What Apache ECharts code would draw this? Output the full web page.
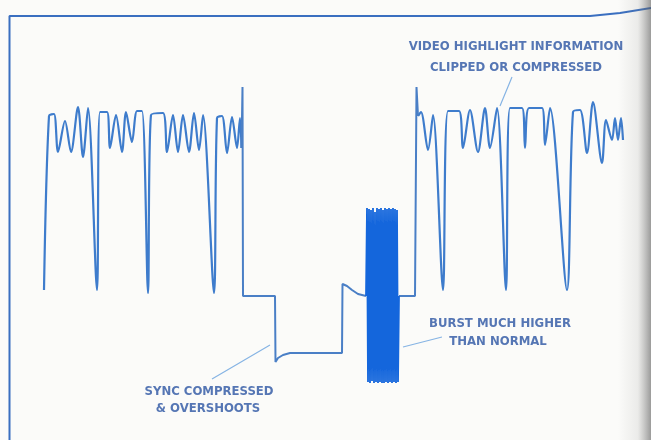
<!DOCTYPE html>
<html>
<head>
<meta charset="utf-8">
<script src="https://cdn.jsdelivr.net/npm/echarts@6/dist/echarts.min.js"></script>
<style>
  html, body { margin: 0; padding: 0; background: #fbfbf9; }
  #chart { width: 651px; height: 440px; }
</style>
</head>
<body>
<div id="chart"></div>
<script>
// time axis is arbitrary units across the line, level: 0 = blanking
var videoLeftT = [44, 49, 54, 58, 65, 71, 78, 83, 88, 97, 100, 107, 110, 116, 122, 126, 132, 137, 142, 148, 151, 163, 167, 173, 178, 183, 189, 194, 199, 203, 214, 217, 222, 227, 232, 237, 240, 241.5];
var videoLeftV = [6, 180, 182, 144, 175, 144, 189, 139, 188, 6, 184, 184, 148, 181, 144, 184, 154, 185, 185, 3, 181, 183, 144, 181, 144, 181, 144, 183, 146, 181, 3, 178, 180, 143, 179, 148, 178, 148];

var blankT = [241.5, 242.5, 243, 275, 275.5, 278, 283, 290, 342, 342.5, 347, 352, 358, 366];
var blankV = [148, 209, 0, 0, -66, -62, -59, -57, -57, 12, 10, 6, 2, 0];

var burstT = [366, 367, 368, 369, 370, 371, 372, 373, 374, 375, 376, 377, 378, 379, 380, 381, 382, 383, 384, 385, 386, 387, 388, 389, 390, 391, 392, 393, 394, 395, 396, 397, 398, 399];
var burstV = [0, 88, -86, 87, -87, 86, -85, 88, -87, 84, -86, 88, -87, 87, -86, 88, -87, 86, -87, 88, -86, 87, -87, 88, -86, 87, -87, 88, -86, 87, -87, 86, -86, 0];

var backT = [399, 415, 416.5, 418];
var backV = [0, 0, 209, 180];

var videoRightT = [418, 421, 428, 433, 443, 448, 459, 463, 470, 478, 485, 490, 497, 506, 510, 522, 525, 529, 542, 545, 550, 567, 573, 580, 587, 593, 602, 606, 612, 615, 618, 621, 623];
var videoRightV = [180, 184, 146, 181, 6, 185, 185, 148, 186, 144, 188, 148, 188, 6, 188, 188, 148, 188, 188, 151, 188, 6, 184, 186, 143, 194, 133, 176, 156, 178, 156, 178, 156];

var frameT = [9.5, 9.5, 590, 620, 651];
var frameV = [-144, 280, 280, 283, 288];

var pointers = [
    [[512, 219], [500, 190]],
    [[212, -83], [270, -49]],
    [[403, -51], [442, -41]]
];

var notes = [
    { text: 'VIDEO HIGHLIGHT INFORMATION', x: 516, y: 47 },
    { text: 'CLIPPED OR COMPRESSED', x: 516, y: 68 },
    { text: 'BURST MUCH HIGHER', x: 500, y: 324 },
    { text: 'THAN NORMAL', x: 498, y: 342 },
    { text: 'SYNC COMPRESSED', x: 209, y: 392 },
    { text: '& OVERSHOOTS', x: 208, y: 409 }
];

function pairs(t, v) {
    var out = [];
    for (var i = 0; i < t.length; i++) {
        out.push([t[i], v[i]]);
    }
    return out;
}

var videoData = pairs(videoLeftT, videoLeftV).concat([[null, null]], pairs(videoRightT, videoRightV));
var pointerData = [];
pointers.forEach(function (p) {
    pointerData.push(p[0], p[1], [null, null]);
});

var chart = echarts.init(document.getElementById('chart'));

var graphics = notes.map(function (n) {
    return {
        type: 'text',
        x: n.x,
        y: n.y,
        style: {
            text: n.text,
            fill: '#5576b4',
            font: 'bold 13px "DejaVu Sans Condensed", "Liberation Sans Narrow", sans-serif',
            textAlign: 'center',
            textVerticalAlign: 'middle'
        }
    };
});
graphics.push({
    type: 'rect',
    shape: { x: 618, y: 0, width: 33, height: 440 },
    style: {
        fill: new echarts.graphic.LinearGradient(0, 0, 1, 0, [
            { offset: 0, color: 'rgba(120,120,120,0)' },
            { offset: 0.6, color: 'rgba(120,120,120,0.12)' },
            { offset: 1, color: 'rgba(90,90,90,0.6)' }
        ])
    },
    z: 100
});

var option = {
    backgroundColor: '#fbfbf9',
    animation: false,
    grid: { left: 0, right: 0, top: 0, bottom: 0 },
    xAxis: { type: 'value', min: 0, max: 651, show: false },
    yAxis: { type: 'value', min: -144, max: 296, show: false },
    graphic: graphics,
    series: [
        {
            name: 'frame',
            type: 'line',
            data: pairs(frameT, frameV),
            showSymbol: false,
            lineStyle: { color: '#3a6fc0', width: 2 }
        },
        {
            name: 'video',
            type: 'line',
            data: videoData,
            smooth: 0.3,
            connectNulls: false,
            showSymbol: false,
            lineStyle: { color: '#3e7ccc', width: 2.2 }
        },
        {
            name: 'blanking',
            type: 'line',
            data: pairs(blankT, blankV).concat([[null, null]], pairs(backT, backV)),
            connectNulls: false,
            showSymbol: false,
            lineStyle: { color: '#4a7fc6', width: 2 }
        },
        {
            name: 'burst',
            type: 'line',
            data: pairs(burstT, burstV),
            showSymbol: false,
            lineStyle: { color: '#1466dc', width: 1.8 }
        },
        {
            name: 'pointers',
            type: 'line',
            data: pointerData,
            connectNulls: false,
            showSymbol: false,
            lineStyle: { color: '#86b4e4', width: 1.2 }
        }
    ]
};

chart.setOption(option);
</script>
</body>
</html>
